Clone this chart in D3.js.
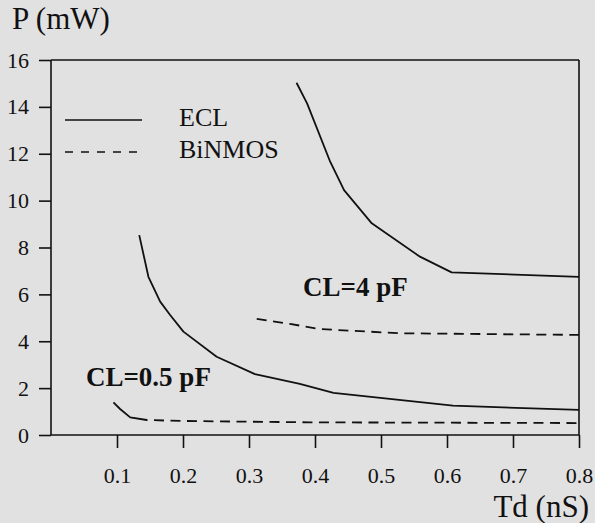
<!DOCTYPE html>
<html>
<head>
<meta charset="utf-8">
<script src="https://cdn.jsdelivr.net/npm/d3@7"></script>
<style>
  html, body { margin: 0; padding: 0; background: #e1e1e1; }
  svg { display: block; }
  text { font-family: "Liberation Serif", "Times New Roman", serif; fill: #111; }
</style>
</head>
<body>
<svg id="chart" width="595" height="523"></svg>
<script>
// Power dissipation vs. gate delay, ECL and BiNMOS, two load capacitances
const xTicks = [0.1, 0.2, 0.3, 0.4, 0.5, 0.6, 0.7, 0.8];
const yTicks = [0, 2, 4, 6, 8, 10, 12, 14, 16];

// ECL, CL = 4 pF
const ecl4Td = [0.372, 0.388, 0.423, 0.444, 0.486, 0.559, 0.607, 0.8];
const ecl4P  = [15.03, 14.15, 11.66, 10.45, 9.03, 7.61, 6.94, 6.75];
// ECL, CL = 0.5 pF
const ecl05Td = [0.1337, 0.1476, 0.1654, 0.1805, 0.2006, 0.251, 0.309, 0.377, 0.428, 0.609, 0.8];
const ecl05P  = [8.53, 6.75, 5.69, 5.12, 4.41, 3.34, 2.60, 2.18, 1.80, 1.25, 1.07];
// BiNMOS, CL = 4 pF
const bin4Td = [0.3117, 0.362, 0.4075, 0.5287, 0.8];
const bin4P  = [4.95, 4.74, 4.52, 4.34, 4.27];
// BiNMOS, CL = 0.5 pF
const bin05Td = [0.0946, 0.1047, 0.12, 0.145, 0.196, 0.392, 0.8];
const bin05P  = [1.39, 1.11, 0.75, 0.64, 0.60, 0.54, 0.51];

const legendNames = ["ECL", "BiNMOS"];
const annotations = [
  { text: "CL=4 pF", td: 0.382, p: 5.93 },
  { text: "CL=0.5 pF", td: 0.053, p: 2.09 }
];

const svg = d3.select("#chart");
const plotLeft = 51, plotRight = 579, plotTop = 60, plotBottom = 435;
const ink = "#111";

const x = d3.scaleLinear().domain([0, 0.8]).range([plotLeft, plotRight]);
const y = d3.scaleLinear().domain([0, 16]).range([plotBottom, plotTop]);

// frame: top and right edges
svg.append("line").attr("x1", plotLeft).attr("x2", plotRight).attr("y1", plotTop).attr("y2", plotTop)
  .attr("stroke", ink).attr("stroke-width", 1.6);
svg.append("line").attr("x1", plotRight).attr("x2", plotRight).attr("y1", plotTop).attr("y2", plotBottom)
  .attr("stroke", ink).attr("stroke-width", 1.6);

// y axis
const yAxis = svg.append("g").attr("transform", `translate(${plotLeft},0)`)
  .call(d3.axisLeft(y).tickValues(yTicks).tickSize(12).tickSizeOuter(0).tickPadding(10)
    .tickFormat(d3.format("d")));
// x axis
const xAxis = svg.append("g").attr("transform", `translate(0,${plotBottom})`)
  .call(d3.axisBottom(x).tickValues(xTicks).tickSize(13).tickSizeOuter(0).tickPadding(19)
    .tickFormat(d3.format(".1f")));

[yAxis, xAxis].forEach(g => {
  g.select(".domain").attr("stroke", ink).attr("stroke-width", 1.6);
  g.selectAll(".tick line").attr("stroke", ink).attr("stroke-width", 1.6);
  g.selectAll(".tick text").attr("font-family", "Liberation Serif").attr("font-size", 22).attr("fill", ink);
});
// axis lines span the full plot edges
yAxis.select(".domain").attr("d", `M0,${plotBottom}V${plotTop}`);
xAxis.select(".domain").attr("d", `M${plotLeft},0H${plotRight}`);

// axis titles
svg.append("text").attr("x", 12).attr("y", 29).attr("font-size", 31).text("P (mW)");
svg.append("text").attr("x", 589).attr("y", 517).attr("font-size", 31)
  .attr("text-anchor", "end").text("Td (nS)");

const line = d3.line().x(d => x(d[0])).y(d => y(d[1]));
const zip = (a, b) => a.map((v, i) => [v, b[i]]);

const dashed = "10,6.5";
// first stretch of the low-load BiNMOS trace is unbroken, then regular dashes
const bin05Dash = "40,6.5," + d3.range(60).map(() => "10,6.5").join(",");

const series = [
  { pts: zip(ecl4Td, ecl4P), dash: null },
  { pts: zip(ecl05Td, ecl05P), dash: null },
  { pts: zip(bin4Td, bin4P), dash: dashed },
  { pts: zip(bin05Td, bin05P), dash: bin05Dash }
];

svg.selectAll("path.series").data(series).join("path")
  .attr("class", "series")
  .attr("d", d => line(d.pts))
  .attr("fill", "none")
  .attr("stroke", ink)
  .attr("stroke-width", 1.8)
  .attr("stroke-linejoin", "round")
  .attr("stroke-dasharray", d => d.dash);

// legend
const legend = svg.append("g");
legendNames.forEach((name, i) => {
  const ly = 120 + i * 32;
  legend.append("line").attr("x1", 65).attr("x2", 142).attr("y1", ly).attr("y2", ly)
    .attr("stroke", ink).attr("stroke-width", 1.6)
    .attr("stroke-dasharray", i === 1 ? "8,8" : null);
  legend.append("text").attr("x", 179).attr("y", ly + 6).attr("font-size", 26).text(name);
});

// load capacitance labels
svg.selectAll("text.note").data(annotations).join("text")
  .attr("class", "note")
  .attr("x", d => x(d.td)).attr("y", d => y(d.p))
  .attr("font-size", 27).attr("font-weight", "bold")
  .text(d => d.text);
</script>
</body>
</html>
